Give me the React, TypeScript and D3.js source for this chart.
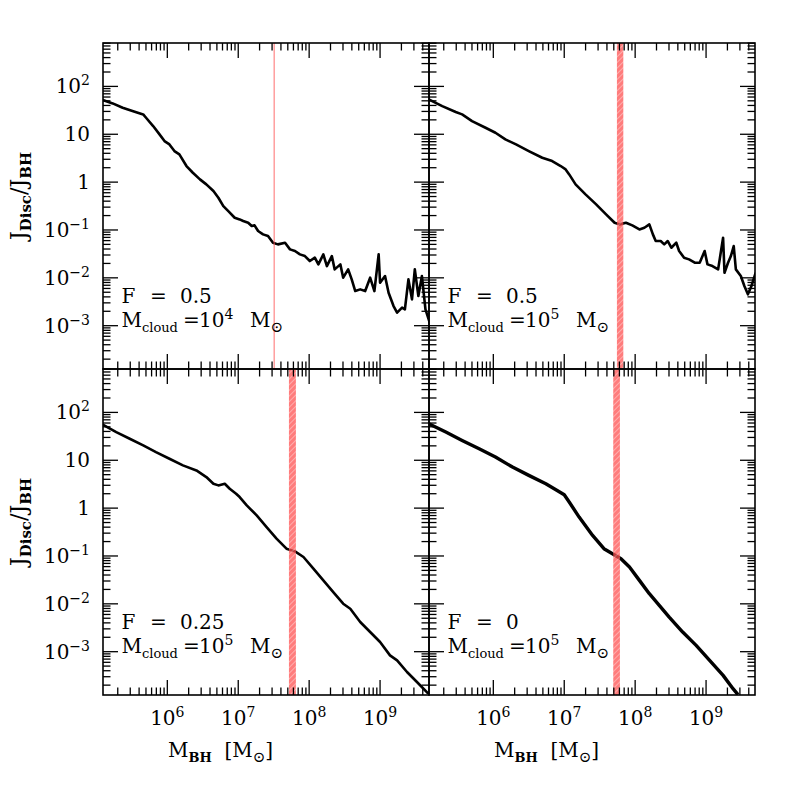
import React from "react";
import * as d3 from "d3";

// log10(M_BH / Msun) and log10(J_Disc / J_BH)
const logM_A = [5.09, 5.23, 5.37, 5.54, 5.66, 5.7, 5.8, 5.89, 5.96, 6.03, 6.1, 6.17, 6.27, 6.36, 6.46, 6.55, 6.65, 6.72, 6.79, 6.86, 6.95, 7.02, 7.07, 7.14, 7.19, 7.23, 7.28, 7.35, 7.42, 7.49, 7.56, 7.66, 7.73, 7.8, 7.87, 7.94, 8.01, 8.08, 8.13, 8.2, 8.25, 8.32, 8.36, 8.44, 8.48, 8.55, 8.6, 8.65, 8.72, 8.79, 8.86, 8.92, 8.98, 9.0, 9.07, 9.12, 9.19, 9.24, 9.31, 9.35, 9.4, 9.45, 9.49, 9.54, 9.59, 9.64, 9.7];
const logJ_A = [1.714, 1.645, 1.554, 1.47, 1.415, 1.345, 1.171, 0.997, 0.858, 0.788, 0.649, 0.579, 0.336, 0.196, 0.057, -0.047, -0.187, -0.326, -0.5, -0.605, -0.744, -0.779, -0.813, -0.848, -0.918, -0.904, -1.022, -1.092, -1.127, -1.266, -1.301, -1.266, -1.405, -1.44, -1.51, -1.545, -1.649, -1.579, -1.719, -1.51, -1.754, -1.545, -1.823, -1.719, -1.997, -1.823, -2.032, -2.276, -2.241, -2.276, -1.997, -2.276, -1.51, -2.102, -1.962, -2.311, -2.589, -2.728, -2.624, -2.659, -2.032, -2.45, -1.823, -2.38, -1.962, -2.659, -2.937];

const logM_B = [5.09, 5.28, 5.47, 5.56, 5.7, 5.89, 6.03, 6.17, 6.32, 6.5, 6.69, 6.83, 6.95, 7.02, 7.07, 7.16, 7.3, 7.45, 7.59, 7.71, 7.78, 7.87, 7.96, 8.06, 8.13, 8.2, 8.25, 8.29, 8.36, 8.41, 8.46, 8.51, 8.58, 8.62, 8.69, 8.76, 8.84, 8.91, 8.98, 9.02, 9.09, 9.17, 9.24, 9.26, 9.31, 9.35, 9.39, 9.42, 9.49, 9.54, 9.59, 9.64, 9.7];
const logJ_B = [1.728, 1.589, 1.464, 1.415, 1.276, 1.136, 1.032, 0.893, 0.788, 0.649, 0.51, 0.44, 0.336, 0.266, 0.161, -0.047, -0.256, -0.465, -0.674, -0.848, -0.883, -0.848, -0.904, -0.988, -0.953, -0.883, -1.092, -1.231, -1.231, -1.301, -1.231, -1.371, -1.266, -1.44, -1.579, -1.614, -1.684, -1.684, -1.44, -1.719, -1.754, -1.823, -1.162, -1.893, -1.684, -1.545, -1.336, -1.823, -1.962, -2.171, -2.345, -2.171, -1.893];

const logM_C = [5.09, 5.28, 5.47, 5.66, 5.84, 6.03, 6.22, 6.41, 6.55, 6.65, 6.72, 6.81, 6.88, 6.97, 7.02, 7.12, 7.26, 7.4, 7.54, 7.68, 7.8, 7.92, 8.06, 8.2, 8.34, 8.48, 8.58, 8.72, 8.86, 9.0, 9.14, 9.24, 9.38, 9.52, 9.68];
const logJ_C = [1.742, 1.589, 1.45, 1.311, 1.171, 1.032, 0.893, 0.788, 0.649, 0.51, 0.475, 0.51, 0.405, 0.301, 0.231, 0.057, -0.152, -0.396, -0.639, -0.848, -0.904, -1.022, -1.266, -1.51, -1.754, -1.997, -2.102, -2.38, -2.589, -2.798, -3.077, -3.181, -3.425, -3.634, -3.878];

const logM_D = [5.09, 5.33, 5.56, 5.8, 6.03, 6.27, 6.5, 6.74, 6.9, 7.0, 7.07, 7.21, 7.4, 7.56, 7.68, 7.8, 7.92, 8.06, 8.2, 8.34, 8.48, 8.67, 8.86, 9.05, 9.24, 9.38, 9.45];
const logJ_D = [1.763, 1.589, 1.415, 1.241, 1.067, 0.858, 0.684, 0.51, 0.37, 0.28, 0.127, -0.187, -0.57, -0.848, -0.953, -1.057, -1.231, -1.51, -1.788, -2.032, -2.276, -2.589, -2.868, -3.181, -3.495, -3.773, -3.898];

// shaded ranges in log10(M_BH)
const bandA = [7.503, 7.51];
const bandB = [7.743, 7.833];
const bandC = [7.715, 7.813];
const bandD = [7.691, 7.785];

const fValues = ["0.5", "0.5", "0.25", "0"];
const cloudExps = ["4", "5", "5", "5"];

const xTickLabels = ["6", "7", "8", "9"];
const yTickLabels = [
  { v: -3, base: "10", sup: "\u22123" },
  { v: -2, base: "10", sup: "\u22122" },
  { v: -1, base: "10", sup: "\u22121" },
  { v: 0, base: "1", sup: "" },
  { v: 1, base: "10", sup: "" },
  { v: 2, base: "10", sup: "2" },
];

const FONT = "'DejaVu Serif', 'Liberation Serif', serif";
const W = 326;
const H = 326;
const xLogDomain = [5.093, 9.69];
const yLogDomain = [-3.905, 2.907];

function logTicks(lo: number, hi: number) {
  const out: { v: number; major: boolean }[] = [];
  for (let d = Math.floor(lo); d <= Math.ceil(hi); d++) {
    for (let k = 1; k <= 9; k++) {
      const v = k * Math.pow(10, d);
      const l = Math.log10(v);
      if (l >= lo && l <= hi) out.push({ v, major: k === 1 });
    }
  }
  return out;
}

function Panel(props: any) {
  const { id, x0, y0, logM, logJ, band, F, cexp, bottom, left, sw } = props;
  const xs = d3.scaleLog().domain(xLogDomain.map((d) => Math.pow(10, d))).range([x0, x0 + W]);
  const ys = d3.scaleLog().domain(yLogDomain.map((d) => Math.pow(10, d))).range([y0 + H, y0]);
  const pts = logM.map((m: number, i: number) => [Math.pow(10, m), Math.pow(10, logJ[i])]);
  const line = d3.line<any>().x((d) => xs(d[0])).y((d) => ys(d[1]));

  const xt = logTicks(xLogDomain[0], xLogDomain[1]);
  const yt = logTicks(yLogDomain[0], yLogDomain[1]);

  const bx0 = xs(Math.pow(10, band[0]));
  const bx1 = xs(Math.pow(10, band[1]));
  const thin = bx1 - bx0 < 2;

  return (
    <g>
      <clipPath id={"clip" + id}>
        <rect x={x0} y={y0} width={W} height={H} />
      </clipPath>
      <path d={line(pts) || ""} fill="none" stroke="#000" strokeWidth={sw} strokeLinejoin="round" clipPath={`url(#clip${id})`} />
      {thin ? (
        <line x1={(bx0 + bx1) / 2} x2={(bx0 + bx1) / 2} y1={y0} y2={y0 + H} stroke="#f55" strokeWidth={1} opacity={0.85} />
      ) : (
        <rect x={bx0} y={y0} width={bx1 - bx0} height={H} fill="url(#hatch)" opacity={0.75} />
      )}
      {/* ticks on all four sides */}
      {xt.map((t, i) => {
        const x = xs(t.v);
        const L = t.major ? 15 : 7.5;
        return (
          <g key={"x" + i} stroke="#000" strokeWidth={1.3}>
            <line x1={x} x2={x} y1={y0 + H} y2={y0 + H - L} />
            <line x1={x} x2={x} y1={y0} y2={y0 + L} />
          </g>
        );
      })}
      {yt.map((t, i) => {
        const y = ys(t.v);
        const L = t.major ? 15 : 7.5;
        return (
          <g key={"y" + i} stroke="#000" strokeWidth={1.3}>
            <line x1={x0} x2={x0 + L} y1={y} y2={y} />
            <line x1={x0 + W} x2={x0 + W - L} y1={y} y2={y} />
          </g>
        );
      })}
      <rect x={x0} y={y0} width={W} height={H} fill="none" stroke="#000" strokeWidth={1.6} />

      {bottom &&
        xTickLabels.map((e) => (
          <text key={"xl" + e} x={xs(Math.pow(10, +e))} y={y0 + H + 30} textAnchor="middle" fontSize={20} fontFamily={FONT}>
            10<tspan dy={-8} fontSize={14}>{e}</tspan>
          </text>
        ))}
      {left &&
        yTickLabels.map((t) => (
          <text key={"yl" + t.v} x={x0 - 13} y={ys(Math.pow(10, t.v)) + 7} textAnchor="end" fontSize={20} fontFamily={FONT}>
            {t.base}
            {t.sup && <tspan dy={-8} fontSize={14}>{t.sup}</tspan>}
          </text>
        ))}

      <g fontFamily={FONT} fontSize={20}>
        <text x={x0 + 18.5} y={y0 + 259.5}>
          F<tspan x={x0 + 47}>=</tspan>
          <tspan x={x0 + 77}>{F}</tspan>
        </text>
        <text x={x0 + 18.5} y={y0 + 283.5}>
          M<tspan dy={5} fontSize={13}>cloud</tspan>
          <tspan x={x0 + 80} dy={-5}>=</tspan>
          <tspan x={x0 + 96}>10</tspan>
          <tspan dy={-8} fontSize={14}>{cexp}</tspan>
          <tspan x={x0 + 147} dy={8}>M</tspan>
          <tspan dy={5} fontSize={15}>{"\u2299"}</tspan>
        </text>
      </g>

      {bottom && (
        <text x={x0 + 65} y={y0 + H + 62} fontSize={20} fontFamily={FONT}>
          M<tspan dy={5} fontSize={13} fontWeight="bold">BH</tspan>
          <tspan dy={-5}>{"\u00a0\u00a0[M"}</tspan>
          <tspan dy={5} fontSize={15}>{"\u2299"}</tspan>
          <tspan dy={-5}>]</tspan>
        </text>
      )}
      {left && (
        <text transform={`translate(${x0 - 77},${y0 + H / 2 - 10}) rotate(-90)`} textAnchor="middle" fontSize={22} fontFamily={FONT}>
          J<tspan dy={5} fontSize={15} fontWeight="bold">Disc</tspan>
          <tspan dy={-5}>/J</tspan>
          <tspan dy={5} fontSize={15} fontWeight="bold">BH</tspan>
        </text>
      )}
    </g>
  );
}

export default function App() {
  const L = 103;
  const T = 43;
  return (
    <svg width={797} height={797} style={{ position: "absolute", left: 0, top: 0, background: "#fff" }}>
      <defs>
        <pattern id="hatch" patternUnits="userSpaceOnUse" width={4} height={4} patternTransform="rotate(45)">
          <rect width={4} height={4} fill="#ff5050" />
          <line x1={0} y1={0} x2={0} y2={4} stroke="#ffc0c0" strokeWidth={1.2} />
        </pattern>
      </defs>
      <rect width={797} height={797} fill="#fff" />
      <Panel id="a" x0={L} y0={T} logM={logM_A} logJ={logJ_A} band={bandA} F={fValues[0]} cexp={cloudExps[0]} bottom={false} left={true} sw={2.6} />
      <Panel id="b" x0={L + W} y0={T} logM={logM_B} logJ={logJ_B} band={bandB} F={fValues[1]} cexp={cloudExps[1]} bottom={false} left={false} sw={2.6} />
      <Panel id="c" x0={L} y0={T + H} logM={logM_C} logJ={logJ_C} band={bandC} F={fValues[2]} cexp={cloudExps[2]} bottom={true} left={true} sw={2.6} />
      <Panel id="d" x0={L + W} y0={T + H} logM={logM_D} logJ={logJ_D} band={bandD} F={fValues[3]} cexp={cloudExps[3]} bottom={true} left={false} sw={3.4} />
    </svg>
  );
}
